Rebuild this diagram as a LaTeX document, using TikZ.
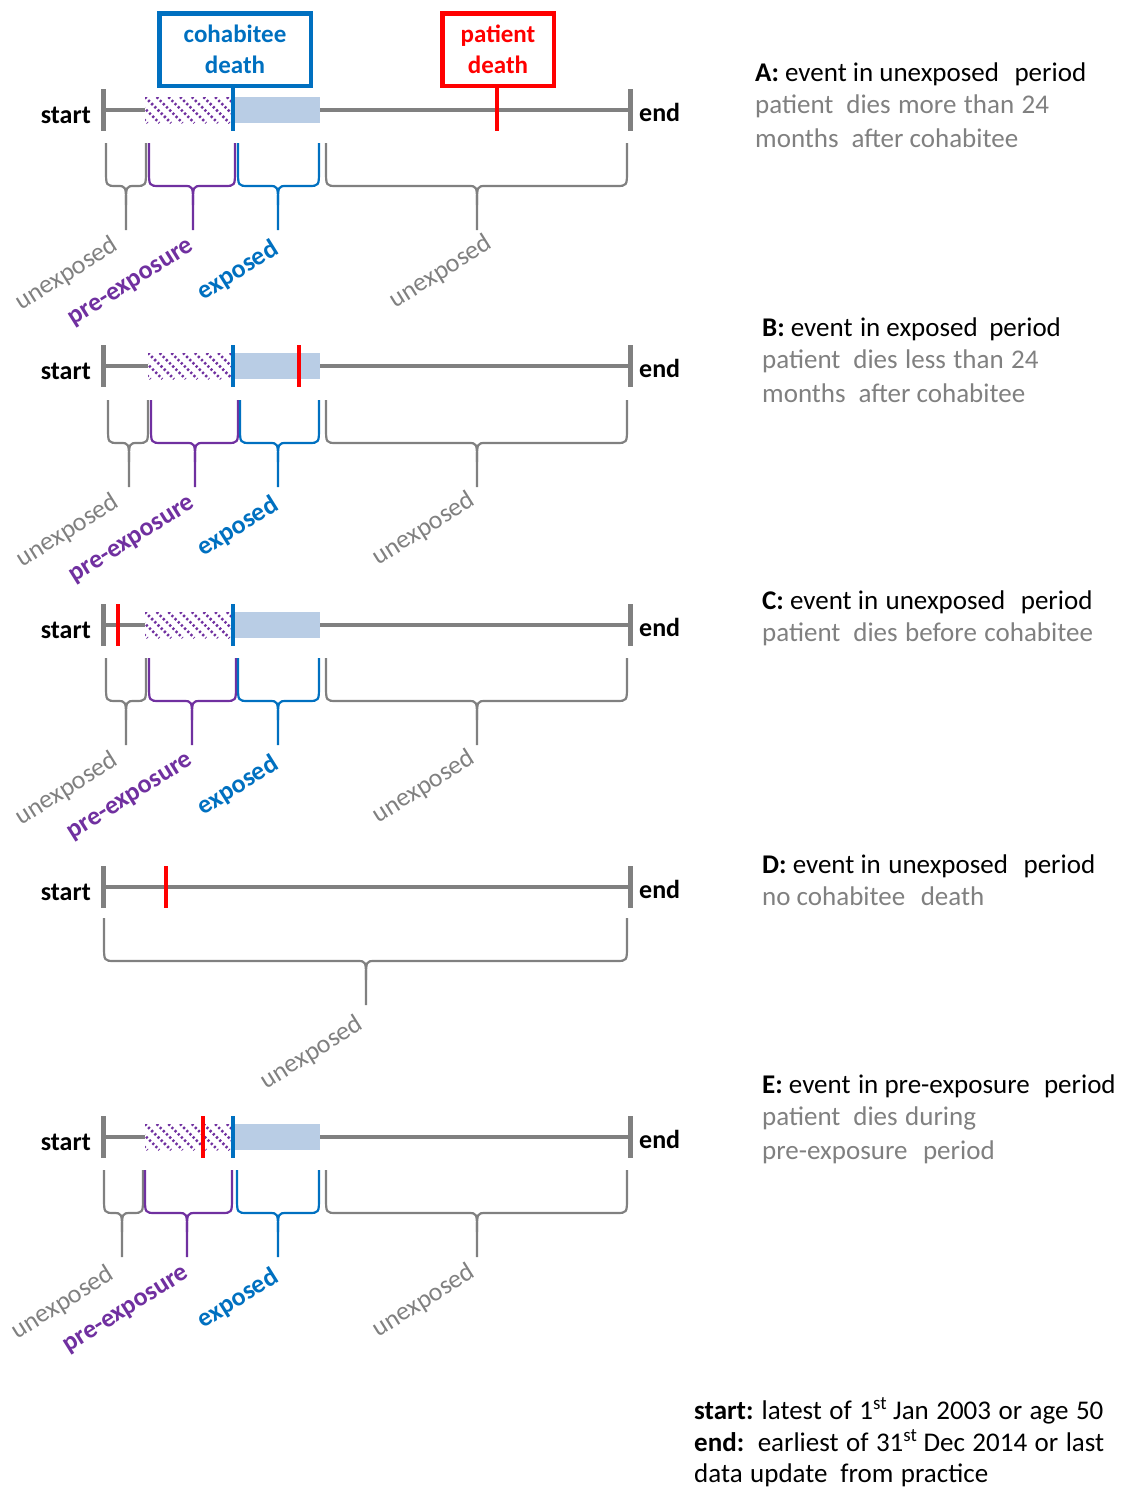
\documentclass[tikz,border=0pt]{standalone}
\usepackage{fontspec}
\setmainfont{Carlito}
\definecolor{tgray}{RGB}{128,128,128}
\definecolor{tpurple}{RGB}{112,48,160}
\definecolor{tblue}{RGB}{0,112,192}
\definecolor{tlight}{RGB}{185,205,229}
\definecolor{tred}{RGB}{255,0,0}
\tikzset{
  axisline/.style={tgray, line width=4.5pt},
  tickmark/.style={tgray, line width=5pt},
  redmark/.style={tred, line width=4.5pt},
  bluemark/.style={tblue, line width=4.5pt},
  bracepath/.style={line width=2.2pt, line join=round},
  lab/.style={font=\fontsize{26}{30}\selectfont, rotate=32, inner sep=0pt},
  unexp/.style={lab, text=tgray},
  preexp/.style={lab, text=tpurple, font=\fontsize{26}{30}\selectfont\bfseries},
  expo/.style={lab, text=tblue, font=\fontsize{26}{30}\selectfont\bfseries},
  se/.style={font=\fontsize{26}{30}\selectfont\bfseries, inner sep=0pt},
  rhead/.style={font=\fontsize{27}{32}\selectfont, anchor=base west, inner sep=0pt},
  rdesc/.style={rhead, text=tgray},
  eventbox/.style={line width=4.5pt, inner sep=0pt, align=center,
     font=\fontsize{25}{31}\selectfont\bfseries, minimum height=72.5},
}
\newcommand{\timeline}[2]{% #1 name, #2 y
  \coordinate (#1s) at (103,#2);
  \coordinate (#1e) at (630,#2);
  \draw[axisline] (#1s) -- (#1e);
  \draw[tickmark] (103,#2-21) -- (103,#2+21);
  \draw[tickmark] (630,#2-21) -- (630,#2+21);
  \node[se, anchor=base east] (#1start) at (91,#2+13) {start};
  \node[se, anchor=base west] (#1end) at (639,#2+11) {end};
}
\newcommand{\exposure}[2]{% #1 y, #2 hatch start
  \fill[white] (#2,#1-13) rectangle (232,#1+13);
  \begin{scope}
    \clip (#2,#1-13) rectangle (232,#1+13);
    \foreach \k in {-3,...,8}
      \draw[tpurple, line width=2.5pt, dash pattern=on 2.2pt off 2.3pt]
        (#2+\k*11.7,#1-13) -- ++(26,26);
  \end{scope}
  \fill[tlight] (232,#1-13) rectangle (320,#1+13);
}
\newcommand{\curly}[5]{% color, x1, x2, tip, ytop
  \draw[#1, bracepath] (#2,#5) -- (#2,#5+27) .. controls (#2,#5+43) .. (#2+11,#5+43)
     -- (#4-9,#5+43) .. controls (#4,#5+43) .. (#4,#5+62) -- (#4,#5+87);
  \draw[#1, bracepath] (#3,#5) -- (#3,#5+27) .. controls (#3,#5+43) .. (#3-11,#5+43)
     -- (#4+9,#5+43) .. controls (#4,#5+43) .. (#4,#5+62);
}
\begin{document}
\begin{tikzpicture}[x=1pt,y=-1pt]
\useasboundingbox (0,0) rectangle (1130,1489);

% ---------------- A
\timeline{A}{110}
\exposure{110}{145}
\node[eventbox, draw=tblue, text=tblue, minimum width=151.5] (cbox) at (235,49.5) {cohabitee\\death};
\node[eventbox, draw=tred, text=tred, minimum width=111.5] (pbox) at (498,49.5) {patient\\death};
\coordinate (Ablue) at (233,131);
\coordinate (Ared) at (497,131);
\draw[bluemark] (cbox.south -| Ablue) -- (Ablue);
\draw[redmark] (pbox.south -| Ared) -- (Ared);
\curly{tgray}{106}{146}{126}{143}
\curly{tpurple}{149}{235}{193}{143}
\curly{tblue}{238}{319}{278}{143}
\curly{tgray}{326}{627}{477}{143}
\node[unexp] (Al1) at (67,274) {unexposed};
\node[preexp] (Al2) at (132,284) {pre-exposure};
\node[expo] (Al3) at (238,271) {exposed};
\node[unexp] (Al4) at (441,272) {unexposed};

% ---------------- B
\timeline{B}{366}
\exposure{366}{148}
\draw[bluemark] (233,345) -- (233,387);
\draw[redmark] (299,345) -- (299,387);
\curly{tgray}{108}{148}{129}{400}
\curly{tpurple}{151}{238}{195}{400}
\curly{tblue}{240}{319}{278}{400}
\curly{tgray}{326}{627}{477}{400}
\node[unexp] (Bl1) at (68,531) {unexposed};
\node[preexp] (Bl2) at (133,541) {pre-exposure};
\node[expo] (Bl3) at (238,527) {exposed};
\node[unexp] (Bl4) at (424,529) {unexposed};

% ---------------- C
\timeline{C}{625}
\exposure{625}{145}
\draw[bluemark] (233,604) -- (233,646);
\draw[redmark] (118,604) -- (118,646);
\curly{tgray}{106}{146}{126}{658}
\curly{tpurple}{149}{236}{192}{658}
\curly{tblue}{238}{319}{278}{658}
\curly{tgray}{326}{627}{477}{658}
\node[unexp] (Cl1) at (67,789) {unexposed};
\node[preexp] (Cl2) at (131,798) {pre-exposure};
\node[expo] (Cl3) at (238,786) {exposed};
\node[unexp] (Cl4) at (424,787) {unexposed};

% ---------------- D
\timeline{D}{887}
\draw[redmark] (166,866) -- (166,908);
\curly{tgray}{104}{627}{366}{918}
\node[unexp] (Dl1) at (312,1053) {unexposed};

% ---------------- E
\timeline{E}{1137}
\exposure{1137}{145}
\draw[redmark] (203,1116) -- (203,1158);
\draw[bluemark] (233,1116) -- (233,1158);
\curly{tgray}{104}{143}{122}{1170}
\curly{tpurple}{145}{232}{187}{1170}
\curly{tblue}{237}{319}{278}{1170}
\curly{tgray}{326}{627}{477}{1170}
\node[unexp] (El1) at (63,1303) {unexposed};
\node[preexp] (El2) at (127,1311) {pre-exposure};
\node[expo] (El3) at (238,1299) {exposed};
\node[unexp] (El4) at (424,1301) {unexposed};

% ---------------- right-hand texts
\node[rhead] (ta1) at (755,81) {\textbf{A:} event in unexposed\hspace{0.35em} period};
\node[rdesc] (ta2) at (755,113) {patient\hspace{0.25em} dies\hspace{0.05em} more\hspace{0.05em} than\hspace{0.05em} 24};
\node[rdesc] (ta3) at (755,147) {months\hspace{0.25em} after cohabitee};

\node[rhead] (tb1) at (762,336) {\textbf{B:} event\hspace{0.05em} in exposed\hspace{0.2em} period};
\node[rdesc] (tb2) at (762,368) {patient\hspace{0.25em} dies\hspace{0.05em} less\hspace{0.05em} than\hspace{0.05em} 24};
\node[rdesc] (tb3) at (762,402) {months\hspace{0.25em} after cohabitee};

\node[rhead] (tc1) at (762,609) {\textbf{C:} event in\hspace{0.05em} unexposed\hspace{0.35em} period};
\node[rdesc] (tc2) at (762,641) {patient\hspace{0.25em} dies\hspace{0.05em} before\hspace{0.05em} cohabitee};

\node[rhead] (td1) at (762,873) {\textbf{D:} event in\hspace{0.05em} unexposed\hspace{0.35em} period};
\node[rdesc] (td2) at (762,905) {no cohabitee\hspace{0.35em} death};

\node[rhead] (te1) at (762,1093) {\textbf{E:} event\hspace{0.05em} in pre-exposure\hspace{0.3em} period};
\node[rdesc] (te2) at (762,1125) {patient\hspace{0.25em} dies\hspace{0.05em} during};
\node[rdesc] (te3) at (762,1159) {pre-exposure\hspace{0.35em} period};

\node[rhead] (tl1) at (694,1419) {\textbf{start:} latest\hspace{0.05em} of\hspace{0.05em} 1\textsuperscript{st} Jan\hspace{0.05em} 2003\hspace{0.05em} or\hspace{0.05em} age\hspace{0.05em} 50};
\node[rhead] (tl2) at (694,1451) {\textbf{end:}\hspace{0.2em} earliest\hspace{0.05em} of\hspace{0.05em} 31\textsuperscript{st} Dec\hspace{0.05em} 2014\hspace{0.05em} or\hspace{0.05em} last};
\node[rhead] (tl3) at (694,1482) {data\hspace{0.05em} update\hspace{0.25em} from\hspace{0.05em} practice};
\end{tikzpicture}
\end{document}
